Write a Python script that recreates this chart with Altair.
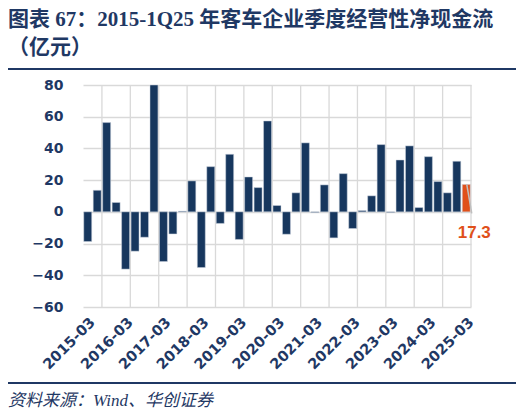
import json
import altair as alt
import pandas as pd

# ---------------- data ----------------
quarters = [f"{y}-{m}" for y in range(2015, 2026) for m in ("03", "06", "09", "12")][:41]
values = [-18.7, 13.6, 56.3, 5.9, -36.1, -24.8, -16.0, 80.0, -31.3, -13.9,
          0.4, 19.5, -35.1, 28.5, -7.3, 36.3, -17.4, 22.0, 15.3, 57.3,
          4.0, -14.1, 12.0, 43.5, -0.4, 17.0, -16.4, 24.1, -10.5, 0.8,
          10.1, 42.4, -0.4, 32.7, 41.6, 2.7, 34.8, 19.1, 12.0, 31.9, 17.3]
y_ticks = [-60, -40, -20, 0, 20, 40, 60, 80]
label_every = 4
grid_every = 3

title_lines = ["图表 67：2015-1Q25 年客车企业季度经营性净现金流", "（亿元）"]
source_text = "资料来源：Wind、华创证券"

NAVY = "#17375E"
TXT = "#1F3864"
ORANGE = "#E0501A"
GRID = "#D9D9D9"

n = len(values)
df = pd.DataFrame({
    "idx": list(range(n)),
    "q": quarters,
    "v": values,
    "latest": [False] * (n - 1) + [True],
})
grid_df = pd.DataFrame({"g": [k - 0.5 for k in range(2, n + 1, grid_every)]})

xscale = alt.Scale(domain=[-0.5, n - 0.5], nice=False, zero=False)
yscale = alt.Scale(domain=[-60, 80], nice=False, zero=False)

xaxis = alt.Axis(
    values=list(range(0, n, label_every)),
    labelExpr=json.dumps(quarters) + "[datum.value]",
    labelAngle=-45, labelAlign="right", labelBaseline="top",
    grid=False, domain=False, ticks=False, labelPadding=8,
    labelFont="DejaVu Sans", labelFontWeight="bold", labelFontSize=14.5,
    labelColor=TXT, labelOverlap=False, title=None,
)
yaxis = alt.Axis(
    values=y_ticks, grid=True, gridColor=GRID, gridWidth=1.3,
    domain=False, ticks=False, labelPadding=20,
    labelFont="DejaVu Sans", labelFontWeight="bold", labelFontSize=14,
    labelColor=TXT, title=None,
)

vgrid = alt.Chart(grid_df).mark_rule(color=GRID, strokeWidth=1.3).encode(
    x=alt.X("g:Q", scale=xscale, axis=xaxis),
    y=alt.datum(80, scale=yscale, axis=yaxis),
    y2=alt.datum(-60),
)

bars = alt.Chart(df).transform_calculate(
    x0="datum.idx - 0.42", x1="datum.idx + 0.42"
).mark_bar(stroke="#c8d1dc", strokeWidth=0.5).encode(
    x=alt.X("x0:Q", scale=xscale, axis=xaxis),
    x2="x1:Q",
    y=alt.Y("v:Q", scale=yscale, axis=yaxis),
    y2=alt.datum(0),
    color=alt.Color("latest:N", scale=alt.Scale(domain=[False, True], range=[NAVY, ORANGE]), legend=None),
)

leader = alt.Chart(df).transform_filter("datum.latest").transform_calculate(
    a="datum.idx + 0.05", b="datum.idx + 0.58"
).mark_rule(color="#BFBFBF", strokeWidth=1.5).encode(
    x=alt.X("a:Q", scale=xscale, axis=xaxis),
    x2="b:Q",
    y=alt.Y("v:Q", scale=yscale, axis=yaxis),
    y2=alt.datum(-1),
)

label = alt.Chart(df).transform_filter("datum.latest").mark_text(
    color=ORANGE, font="Liberation Sans", fontWeight="bold", fontSize=17,
    align="center", baseline="middle", dx=8, dy=21,
).encode(
    x=alt.X("idx:Q", scale=xscale, axis=xaxis),
    y=alt.datum(0, scale=yscale, axis=yaxis),
    text=alt.Text("v:Q", format=".1f"),
)

head_font = "'Liberation Serif', 'Noto Sans CJK SC'"
t1 = alt.Chart(pd.DataFrame({"t": [title_lines[0]]})).mark_text(
    font=head_font, fontWeight="bold", fontSize=21, color=TXT, align="left", baseline="middle"
).encode(text="t:N", x=alt.value(-75), y=alt.value(-65))
t2 = alt.Chart(pd.DataFrame({"t": [title_lines[1]]})).mark_text(
    font=head_font, fontWeight="bold", fontSize=21, color=TXT, align="left", baseline="middle"
).encode(text="t:N", x=alt.value(-75), y=alt.value(-37))
src = alt.Chart(pd.DataFrame({"t": [source_text]})).mark_text(
    font=head_font, fontStyle="italic", fontSize=17, color=TXT, align="left", baseline="middle"
).encode(text="t:N", x=alt.value(-75), y=alt.value(316))
top_rule = alt.Chart(pd.DataFrame({"k": [0]})).mark_rule(color=TXT, strokeWidth=2).encode(
    x=alt.value(-78), x2=alt.value(437), y=alt.value(-16))
bot_rule = alt.Chart(pd.DataFrame({"k": [0]})).mark_rule(color=TXT, strokeWidth=2).encode(
    x=alt.value(-78), x2=alt.value(437), y=alt.value(298))

chart = alt.layer(vgrid, bars, leader, label, t1, t2, src, top_rule, bot_rule).properties(
    width=388, height=222,
    autosize=alt.AutoSizeParams(type="none"),
    padding={"left": 75, "top": 77, "right": 45, "bottom": 103},
).configure_view(stroke=None)

chart.save("out.html", embed_options={"renderer": "svg", "actions": False})
